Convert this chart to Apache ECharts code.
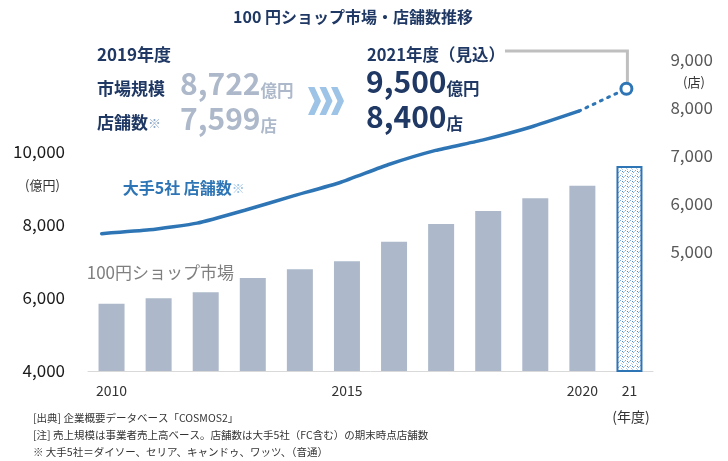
<!DOCTYPE html>
<html>
<head>
<meta charset="utf-8">
<script src="https://cdn.jsdelivr.net/npm/echarts@6/dist/echarts.min.js"></script>
<style>
html,body{margin:0;padding:0;background:#fff;}
#chart{width:728px;height:461px;}
</style>
</head>
<body>
<div id="chart"></div>
<script>
// ---- data ----
const years = ['2010','2011','2012','2013','2014','2015','2016','2017','2018','2019','2020','2021'];
const marketValues = [5840, 5990, 6155, 6540, 6780, 7000, 7530, 8020, 8375, 8722, 9065, 9600]; // 億円
const storeCounts = [5370, 5450, 5590, 5860, 6155, 6440, 6810, 7110, 7330, 7599, 7930, 8400];  // 店
const yearTickLabels = {'2010':'2010','2015':'2015','2020':'2020','2021':'21'};
const leftTicks = [4000, 6000, 8000, 10000];
const rightTicks = [5000, 6000, 7000, 8000, 9000];
const forecastIndex = 11;
const noteLines = [
  '[出典] 企業概要データベース「COSMOS2」',
  '[注] 売上規模は事業者売上高ベース。店舗数は大手5社（FC含む）の期末時点店舗数',
  '※ 大手5社＝ダイソー、セリア、キャンドゥ、ワッツ、（音通）'
];

// ---- styles ----
const FONT = '"Noto Sans CJK JP", "Noto Sans", sans-serif';
const NAVY = '#1F3864';
const BLUE = '#2E75B6';
const BAR = '#ADB9CA';
const LIGHTBLUE = '#9DC3E6';

// dotted pattern for forecast bar
const tile = document.createElement('canvas');
tile.width = 5; tile.height = 5;
(function(){
  const c = tile.getContext('2d');
  c.fillStyle = '#ffffff'; c.fillRect(0,0,5,5);
  c.fillStyle = '#7fa9dc'; c.fillRect(0,0,1,1); c.fillRect(3,2,1,1);
  c.fillStyle = '#b3cfee'; c.fillRect(2,4,1,1); c.fillRect(4,1,1,1); c.fillRect(1,3,1,1);
  c.fillStyle = '#4f86c6'; c.fillRect(2,1,1,1);
})();

const chart = echarts.init(document.getElementById('chart'), null, {renderer:'canvas'});

const barData = marketValues.map((v, i) => i === forecastIndex ? {
  value: v,
  itemStyle: { color: {image: tile, repeat: 'repeat'}, borderColor: BLUE, borderWidth: 2 }
} : v);

const solidData = storeCounts.map((v, i) => i < forecastIndex ? v : '-');
const dottedData = storeCounts.map((v, i) => i >= forecastIndex - 1 ? (i === forecastIndex ? {
  value: v, symbol: 'circle', symbolSize: 11,
  itemStyle: {color: '#ffffff', borderColor: BLUE, borderWidth: 3}
} : v) : '-');

const option = {
  animation: false,
  textStyle: {fontFamily: FONT},
  grid: [
    {left: 88, right: 75, top: 60, bottom: 90},
    {left: 101.7, right: 101.6, top: 60, bottom: 90}
  ],
  xAxis: [
    {
      type: 'category', gridIndex: 0, data: years,
      axisLine: {lineStyle: {color: '#D9D9D9', width: 1}},
      axisTick: {show: false},
      axisLabel: {
        interval: 0, margin: 13, fontSize: 14, color: '#333333', fontFamily: FONT,
        formatter: v => yearTickLabels[v] || ''
      }
    },
    {
      type: 'category', gridIndex: 1, data: years, boundaryGap: false, show: false
    }
  ],
  yAxis: [
    {
      type: 'value', gridIndex: 0, min: 4000, max: 12500, interval: 2000,
      splitLine: {show: false}, axisLine: {show: false}, axisTick: {show: false},
      axisLabel: {
        margin: 23, fontSize: 17, color: '#1a1a1a', fontFamily: FONT,
        formatter: v => leftTicks.indexOf(v) >= 0 ? v.toLocaleString('en-US') : ''
      }
    },
    {
      type: 'value', gridIndex: 1, position: 'right', min: 2500, max: 9000, interval: 500,
      splitLine: {show: false}, axisLine: {show: false}, axisTick: {show: false},
      axisLabel: {
        margin: 44, fontSize: 17, color: '#595959', fontFamily: FONT, align: 'left',
        formatter: v => rightTicks.indexOf(v) >= 0 ? v.toLocaleString('en-US') : ''
      }
    }
  ],
  series: [
    {
      type: 'bar', xAxisIndex: 0, yAxisIndex: 0, data: barData, barWidth: 26,
      itemStyle: {color: BAR}
    },
    {
      type: 'line', xAxisIndex: 1, yAxisIndex: 1, data: solidData, smooth: 0.15,
      symbol: 'none', lineStyle: {color: BLUE, width: 3.5, cap: 'round'}
    },
    {
      type: 'line', xAxisIndex: 1, yAxisIndex: 1, data: dottedData,
      symbol: 'none', showSymbol: true, z: 5,
      lineStyle: {color: BLUE, width: 3, type: [2, 6], cap: 'round'}
    }
  ]
};
chart.setOption(option);

const pt = chart.convertToPixel({xAxisIndex: 1, yAxisIndex: 1}, [forecastIndex, storeCounts[forecastIndex]]);

function txt(x, y, text, size, color, weight, align, extra) {
  return Object.assign({
    type: 'text', x: x, y: y, silent: true,
    style: {text: text, fontSize: size, fontFamily: FONT, fontWeight: weight || 'normal',
      fill: color, align: align || 'left', verticalAlign: 'middle'}
  }, extra || {});
}
function richTxt(x, y, text, rich) {
  return {type: 'text', x: x, y: y, silent: true,
    style: {text: text, fontFamily: FONT, align: 'left', verticalAlign: 'middle', rich: rich}};
}
const chevrons = [0,1,2].map(i => {
  const x0 = 308 + i * 11.5;
  return {type: 'polygon', silent: true,
    shape: {points: [[x0,87],[x0+6.5,87],[x0+13,101],[x0+6.5,115],[x0,115],[x0+6.5,101]]},
    style: {fill: LIGHTBLUE}};
});

const graphics = [
  txt(353, 17, '100 円ショップ市場・店舗数推移', 16, NAVY, 'bold', 'center'),
  txt(97, 55, '2019年度', 17, NAVY, 'bold'),
  txt(97, 89, '市場規模', 17, NAVY, 'bold'),
  richTxt(97, 123, '{a|店舗数}{b|※}', {
    a: {fontSize: 17, fontWeight: 'bold', fill: NAVY, fontFamily: FONT},
    b: {fontSize: 13, fill: '#8EA9C8', fontFamily: FONT}
  }),
  richTxt(180, 84, '{n|8,722}{u|億円}', {
    n: {fontSize: 30, fontWeight: 'bold', fill: BAR, fontFamily: FONT, verticalAlign: 'bottom'},
    u: {fontSize: 16.5, fontWeight: 'bold', fill: BAR, fontFamily: FONT, verticalAlign: 'bottom'}
  }),
  richTxt(180, 119, '{n|7,599}{u|店}', {
    n: {fontSize: 30, fontWeight: 'bold', fill: BAR, fontFamily: FONT, verticalAlign: 'bottom'},
    u: {fontSize: 16.5, fontWeight: 'bold', fill: BAR, fontFamily: FONT, verticalAlign: 'bottom'}
  }),
  txt(367, 55, '2021年度（見込）', 16.5, NAVY, 'bold'),
  richTxt(366, 82, '{n|9,500}{u|億円}', {
    n: {fontSize: 30, fontWeight: 'bold', fill: NAVY, fontFamily: FONT, verticalAlign: 'bottom'},
    u: {fontSize: 16.5, fontWeight: 'bold', fill: NAVY, fontFamily: FONT, verticalAlign: 'bottom'}
  }),
  richTxt(366, 117, '{n|8,400}{u|店}', {
    n: {fontSize: 30, fontWeight: 'bold', fill: NAVY, fontFamily: FONT, verticalAlign: 'bottom'},
    u: {fontSize: 16.5, fontWeight: 'bold', fill: NAVY, fontFamily: FONT, verticalAlign: 'bottom'}
  }),
  {type: 'polyline', silent: true, z: 1,
    shape: {points: [[505, 51], [pt[0] + 1, 51], [pt[0] + 1, pt[1] - 6]]},
    style: {stroke: '#BFBFBF', lineWidth: 3, fill: null}},
  txt(42.5, 185, '(億円)', 13, '#333333', 'normal', 'center'),
  txt(694, 82, '(店)', 13, '#333333', 'normal', 'center'),
  richTxt(122.7, 188, '{a|大手5社 店舗数}{b|※}', {
    a: {fontSize: 16, fontWeight: 'bold', fill: BLUE, fontFamily: FONT},
    b: {fontSize: 13, fill: LIGHTBLUE, fontFamily: FONT}
  }),
  txt(86.7, 272.7, '100円ショップ市場', 17, '#7F7F7F', 'normal'),
  txt(631, 417, '(年度)', 14, '#333333', 'normal', 'center'),
  txt(33, 418.5, noteLines[0], 10.5, '#333333'),
  txt(33, 435.5, noteLines[1], 10.5, '#333333'),
  txt(33, 452.5, noteLines[2], 10.5, '#333333')
].concat(chevrons);

chart.setOption({graphic: graphics});
</script>
</body>
</html>
